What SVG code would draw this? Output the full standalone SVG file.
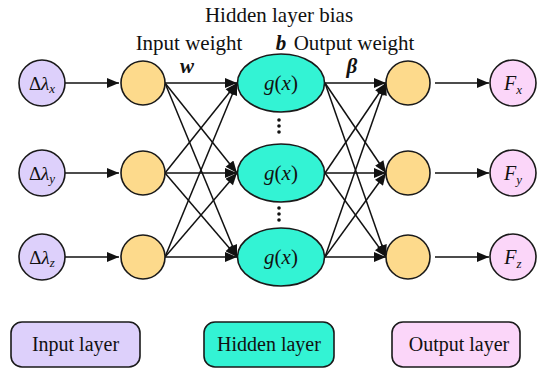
<svg xmlns="http://www.w3.org/2000/svg" width="545" height="369" viewBox="0 0 545 369">
<style>
text{font-family:"Liberation Serif","Times New Roman",serif;fill:#111}
.nd{stroke:#1a1a1a;stroke-width:1.6}
.in{fill:#ddd0fb}
.yl{fill:#fdda8c}
.hd{fill:#33f3d4}
.out{fill:#fbd6f9}
.c line{stroke:#111;stroke-width:1.5;marker-end:url(#ah)}
.it{font-style:italic}
.bi{font-style:italic;font-weight:bold}
.dot{fill:#111}
</style>
<defs>
<marker id="ah" viewBox="0 0 12 10" refX="12" refY="5" markerWidth="13" markerHeight="10" markerUnits="userSpaceOnUse" orient="auto">
<path d="M0,0 L12,5 L0,10 z" fill="#111"/>
</marker>
</defs>
<rect width="545" height="369" fill="#fff"/>

<g id="labels" font-size="21">
<text x="279" y="22" text-anchor="middle">Hidden layer bias</text>
<text x="189" y="50" text-anchor="middle">Input weight</text>
<text x="281" y="50" text-anchor="middle" class="bi">b</text>
<text x="354" y="50" text-anchor="middle">Output weight</text>
<text x="187" y="73" text-anchor="middle" class="bi">w</text>
<text x="352" y="73" text-anchor="middle" class="bi">β</text>
</g>

<g class="c" id="connectors">
<line x1="64" y1="83" x2="119" y2="83"/>
<line x1="64" y1="173" x2="119" y2="173"/>
<line x1="64" y1="257" x2="119" y2="257"/>
<line x1="165" y1="83" x2="237" y2="83"/>
<line x1="165" y1="83" x2="237" y2="173"/>
<line x1="165" y1="83" x2="237" y2="257"/>
<line x1="165" y1="173" x2="237" y2="83"/>
<line x1="165" y1="173" x2="237" y2="173"/>
<line x1="165" y1="173" x2="237" y2="257"/>
<line x1="165" y1="257" x2="237" y2="83"/>
<line x1="165" y1="257" x2="237" y2="173"/>
<line x1="165" y1="257" x2="237" y2="257"/>
<line x1="325" y1="83" x2="386" y2="83"/>
<line x1="325" y1="83" x2="386" y2="173"/>
<line x1="325" y1="83" x2="386" y2="257"/>
<line x1="325" y1="173" x2="386" y2="83"/>
<line x1="325" y1="173" x2="386" y2="173"/>
<line x1="325" y1="173" x2="386" y2="257"/>
<line x1="325" y1="257" x2="386" y2="83"/>
<line x1="325" y1="257" x2="386" y2="173"/>
<line x1="325" y1="257" x2="386" y2="257"/>
<line x1="435" y1="83" x2="489" y2="83"/>
<line x1="435" y1="173" x2="489" y2="173"/>
<line x1="435" y1="257" x2="489" y2="257"/>
</g>

<g id="in-x"><circle class="nd in" cx="42" cy="83" r="23"/><text x="42" y="90" font-size="19" text-anchor="middle">Δ<tspan class="it">λ</tspan><tspan class="it" font-size="13" dy="3">x</tspan></text></g>
<g id="in-y"><circle class="nd in" cx="42" cy="173" r="23"/><text x="42" y="180" font-size="19" text-anchor="middle">Δ<tspan class="it">λ</tspan><tspan class="it" font-size="13" dy="3">y</tspan></text></g>
<g id="in-z"><circle class="nd in" cx="42" cy="257" r="23"/><text x="42" y="264" font-size="19" text-anchor="middle">Δ<tspan class="it">λ</tspan><tspan class="it" font-size="13" dy="3">z</tspan></text></g>

<g id="iw-1"><circle class="nd yl" cx="143" cy="83" r="22"/></g>
<g id="iw-2"><circle class="nd yl" cx="143" cy="173" r="22"/></g>
<g id="iw-3"><circle class="nd yl" cx="143" cy="257" r="22"/></g>

<g id="h-1"><ellipse class="nd hd" cx="281" cy="83" rx="43.5" ry="29"/><text x="281" y="90" font-size="21" text-anchor="middle"><tspan class="it">g</tspan>(<tspan class="it">x</tspan>)</text></g>
<g id="h-2"><ellipse class="nd hd" cx="281" cy="173" rx="43.5" ry="29"/><text x="281" y="180" font-size="21" text-anchor="middle"><tspan class="it">g</tspan>(<tspan class="it">x</tspan>)</text></g>
<g id="h-3"><ellipse class="nd hd" cx="281" cy="257" rx="43.5" ry="29"/><text x="281" y="264" font-size="21" text-anchor="middle"><tspan class="it">g</tspan>(<tspan class="it">x</tspan>)</text></g>

<g id="dots">
<circle class="dot" cx="279" cy="120" r="1.8"/><circle class="dot" cx="279" cy="126" r="1.8"/><circle class="dot" cx="279" cy="132" r="1.8"/>
<circle class="dot" cx="279" cy="208" r="1.8"/><circle class="dot" cx="279" cy="214" r="1.8"/><circle class="dot" cx="279" cy="220" r="1.8"/>
</g>

<g id="ow-1"><circle class="nd yl" cx="408" cy="83" r="22"/></g>
<g id="ow-2"><circle class="nd yl" cx="408" cy="173" r="22"/></g>
<g id="ow-3"><circle class="nd yl" cx="408" cy="257" r="22"/></g>

<g id="out-x"><circle class="nd out" cx="513" cy="83" r="23"/><text x="513" y="90" font-size="20" text-anchor="middle"><tspan class="it">F</tspan><tspan class="it" font-size="13" dy="4">x</tspan></text></g>
<g id="out-y"><circle class="nd out" cx="513" cy="173" r="23"/><text x="513" y="180" font-size="20" text-anchor="middle"><tspan class="it">F</tspan><tspan class="it" font-size="13" dy="4">y</tspan></text></g>
<g id="out-z"><circle class="nd out" cx="513" cy="257" r="23"/><text x="513" y="264" font-size="20" text-anchor="middle"><tspan class="it">F</tspan><tspan class="it" font-size="13" dy="4">z</tspan></text></g>

<g id="legend-input"><rect class="nd in" x="11" y="322" width="129" height="45" rx="11"/><text x="75.5" y="351" font-size="20" text-anchor="middle">Input layer</text></g>
<g id="legend-hidden"><rect class="nd hd" x="204" y="322" width="130" height="45" rx="11"/><text x="269" y="351" font-size="20" text-anchor="middle">Hidden layer</text></g>
<g id="legend-output"><rect class="nd out" x="392" y="322" width="128" height="45" rx="11"/><text x="459" y="351" font-size="20" text-anchor="middle">Output layer</text></g>
</svg>
